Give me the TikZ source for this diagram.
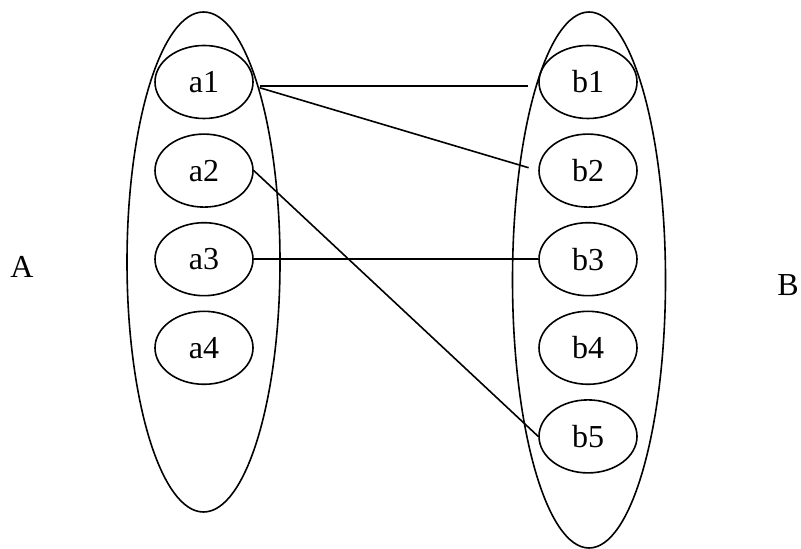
\documentclass[tikz,border=0pt]{standalone}
\usepackage{fontspec}
\setmainfont{Liberation Serif}
\usetikzlibrary{positioning,shapes.geometric}

\begin{document}
\begin{tikzpicture}[
    x=0.5pt, y=-0.5pt,
    node distance=7pt,
    font=\fontsize{16}{19}\selectfont,
    every path/.style={line width=0.8pt},
    element/.style={
        ellipse,
        draw,
        minimum width=49pt,
        minimum height=36.5pt,
        inner sep=0pt
    },
    setbox/.style={
        ellipse,
        draw,
        minimum width=76.5pt,
        inner sep=0pt
    },
    link/.style={-}
]
\useasboundingbox (0,0) rectangle (801,549);

% the two sets
\node[setbox, minimum height=250pt] (SA) at (203.5,262) {};
\node[setbox, minimum height=268pt] (SB) at (589,280) {};

\node (A) at (22,267) {A};
\node (B) at (788,285) {B};

% elements of A
\node[element] (a1) at (204,82) {a1};
\node[element] (a2) [below=of a1] {a2};
\node[element] (a3) [below=of a2] {a3};
\node[element] (a4) [below=of a3] {a4};

% elements of B
\node[element] (b1) at (588,82) {b1};
\node[element] (b2) [below=of b1] {b2};
\node[element] (b3) [below=of b2] {b3};
\node[element] (b4) [below=of b3] {b4};
\node[element] (b5) [below=of b4] {b5};

\draw[link, shorten <=3pt, shorten >=5pt] ([yshift=-2pt]a1.east) -- ([yshift=-2pt]b1.west);
\draw[link, shorten <=3pt, shorten >=5pt] ([yshift=-2pt]a1.east) -- (b2.west);
\draw[link] (a2.east) -- (b5.west);
\draw[link] (a3.east) -- (b3.west);

\end{tikzpicture}
\end{document}
